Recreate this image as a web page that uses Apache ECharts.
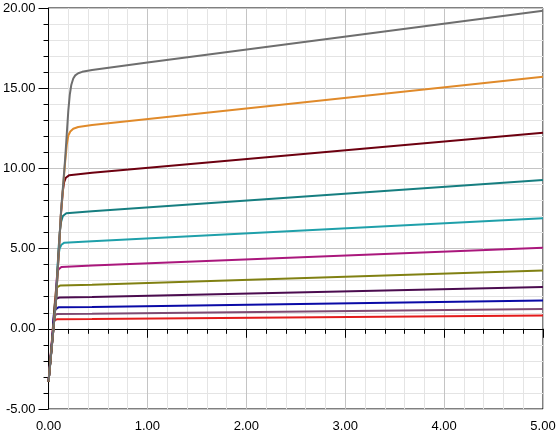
<!DOCTYPE html>
<html>
<head>
<meta charset="utf-8">
<script src="https://cdn.jsdelivr.net/npm/echarts@6/dist/echarts.min.js"></script>
<style>
html,body{margin:0;padding:0;background:#fff;}
#chart{width:559px;height:433px;}
</style>
</head>
<body>
<div id="chart"></div>
<script>
// X axis ticks and Y axis ticks
const xTicks = [0, 1, 2, 3, 4, 5];
const yTicks = [-5, 0, 5, 10, 15, 20];

// Curves: [x, y] points
const curveGray = [[0,-3.3],[0.076,1.8],[0.126,7.3],[0.168,10.6],[0.2,13.6],[0.215,14.6],[0.23,15.2],[0.25,15.6],[0.27,15.8],[0.3,15.93],[0.34,16.02],[0.44,16.14],[1,16.6],[5,19.83]];
const curveOrange = [[0,-3.3],[0.076,1.8],[0.126,7.2],[0.168,10.4],[0.185,11.5],[0.2,12.05],[0.22,12.3],[0.25,12.47],[0.3,12.58],[0.44,12.7],[5,15.71]];
const curveDarkRed = [[0,-3.3],[0.076,1.8],[0.126,7.2],[0.145,8.6],[0.158,9.15],[0.175,9.42],[0.21,9.58],[0.44,9.73],[5,12.23]];
const curveTeal = [[0,-3.3],[0.076,1.8],[0.1,4.9],[0.115,6.1],[0.128,6.7],[0.145,7.03],[0.18,7.2],[0.44,7.33],[5,9.27]];
const curveCyan = [[0,-3.3],[0.076,1.8],[0.09,3.7],[0.1,4.55],[0.112,5.0],[0.13,5.24],[0.16,5.37],[0.44,5.46],[5,6.89]];
const curveMagenta = [[0,-3.3],[0.065,1.0],[0.078,2.8],[0.088,3.4],[0.1,3.7],[0.13,3.85],[0.44,3.94],[5,5.06]];
const curveOlive = [[0,-3.3],[0.055,0.4],[0.066,1.9],[0.076,2.4],[0.09,2.6],[0.12,2.7],[0.44,2.75],[5,3.64]];
const curvePurple = [[0,-3.3],[0.05,0.2],[0.058,1.3],[0.067,1.7],[0.08,1.88],[0.11,1.95],[0.44,1.98],[5,2.61]];
const curveBlue = [[0,-3.3],[0.045,-0.1],[0.053,0.85],[0.062,1.18],[0.075,1.3],[0.1,1.34],[0.44,1.36],[5,1.77]];
const curveMauve = [[0,-3.3],[0.042,-0.2],[0.049,0.55],[0.057,0.82],[0.07,0.9],[0.09,0.93],[0.44,0.94],[5,1.23]];
const curveRed = [[0,-3.3],[0.04,-0.3],[0.047,0.3],[0.055,0.52],[0.068,0.58],[0.09,0.6],[0.44,0.61],[5,0.83]];

const curves = [
  {data: curveRed, color: '#e31b1b'},
  {data: curveMauve, color: '#7e4a72'},
  {data: curveBlue, color: '#0a0aa6'},
  {data: curvePurple, color: '#4b0c4f'},
  {data: curveOlive, color: '#808012'},
  {data: curveMagenta, color: '#aa177c'},
  {data: curveCyan, color: '#1fa0aa'},
  {data: curveTeal, color: '#167e80'},
  {data: curveDarkRed, color: '#6d0010'},
  {data: curveOrange, color: '#e08a2a'},
  {data: curveGray, color: '#6e6e6e'}
];

const chart = echarts.init(document.getElementById('chart'), null, {renderer: 'canvas'});
const labelFont = {color: '#000', fontSize: 13, fontFamily: 'Liberation Sans, Arial, sans-serif'};
chart.setOption({
  animation: false,
  backgroundColor: '#fff',
  grid: {left: 46, right: 16, top: 8, bottom: 24, show: true, borderColor: '#000', borderWidth: 1, backgroundColor: 'transparent'},
  xAxis: {
    type: 'value', min: xTicks[0], max: xTicks[xTicks.length-1], interval: 1,
    axisLine: {show: true, lineStyle: {color: '#000', width: 1}},
    axisTick: {show: true, length: 9, lineStyle: {color: '#000'}},
    minorTick: {show: true, splitNumber: 5, length: 5, lineStyle: {color: '#000'}},
    splitLine: {show: true, lineStyle: {color: '#c4c4c4', width: 1}},
    minorSplitLine: {show: true, lineStyle: {color: '#e4e4e4', width: 1}},
    axisLabel: Object.assign({margin: 11, formatter: v => v.toFixed(2)}, labelFont)
  },
  yAxis: {
    type: 'value', min: yTicks[0], max: yTicks[yTicks.length-1], interval: 5,
    axisLine: {show: true, lineStyle: {color: '#000', width: 1}},
    axisTick: {show: true, length: 10, lineStyle: {color: '#000'}},
    minorTick: {show: true, splitNumber: 5, length: 5, lineStyle: {color: '#000'}},
    splitLine: {show: true, lineStyle: {color: '#c4c4c4', width: 1}},
    minorSplitLine: {show: true, lineStyle: {color: '#e4e4e4', width: 1}},
    axisLabel: Object.assign({margin: 13, formatter: v => v.toFixed(2)}, labelFont)
  },
  series: curves.map(c => ({
    type: 'line', data: c.data, showSymbol: false, symbol: 'none',
    lineStyle: {color: c.color, width: 2}, itemStyle: {color: c.color},
    smooth: false
  }))
});
</script>
</body>
</html>
